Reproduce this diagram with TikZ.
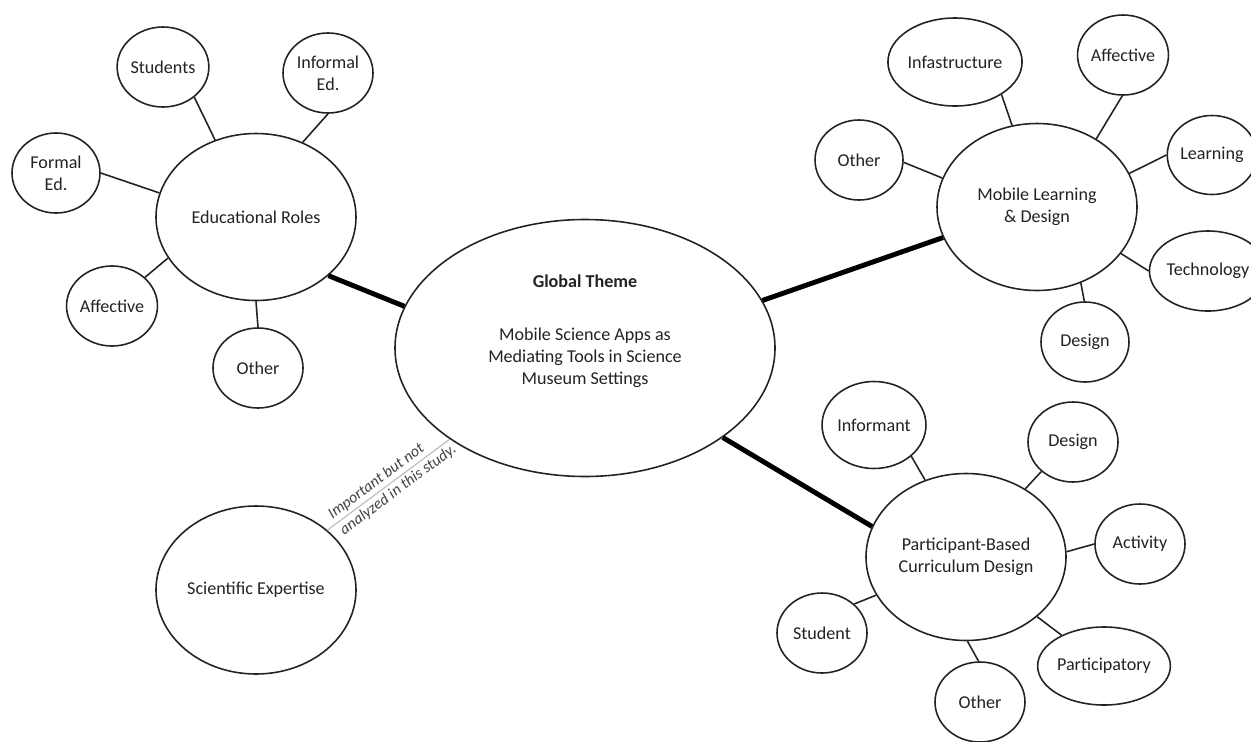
\documentclass[tikz,border=0pt]{standalone}
\usepackage{fontspec}
\setmainfont{Carlito}
\usetikzlibrary{shapes.geometric}
\definecolor{ink}{RGB}{35,35,35}
\tikzset{
  ell/.style 2 args={draw=ink, ellipse, line width=0.9pt, minimum width=#1*0.02cm, minimum height=#2*0.02cm, inner sep=0pt, align=center, text=ink},
  thinedge/.style={draw=ink, line width=0.9pt},
  thickedge/.style={draw=black, line width=2.8pt},
  noteline/.style={draw=gray!55, line width=0.6pt},
  notetext/.style={font=\fontsize{9}{11}\selectfont\itshape, text=ink!85, inner sep=1.5pt}
}
\begin{document}
\begin{tikzpicture}[x=0.02cm, y=-0.02cm, font=\fontsize{10.3}{12.5}\selectfont]
\useasboundingbox (0,0) rectangle (1251,741);
\fill[white] (0,0) rectangle (1251,741);
\clip (0,0) rectangle (1251,741);

% central
\node[ell={380}{257}] (global) at (585,348) {};
\node[align=center, text=ink, inner sep=0pt] (globaltext) at (585,331) {\textbf{Global Theme}\\[18pt]Mobile Science Apps as\\Mediating Tools in Science\\Museum Settings};

% Educational Roles cluster
\node[ell={200}{167}] (edu) at (256,217) {Educational Roles};
\node[ell={90}{80}] (students) at (163,67) {Students};
\node[ell={90}{80}] (informal) at (328,73) {Informal\\Ed.};
\node[ell={88}{80}] (formal) at (56,173) {Formal\\Ed.};
\node[ell={88}{80}] (affect1) at (112,306) {Affective};
\node[ell={90}{80}] (other1) at (258,368) {Other};

% Scientific Expertise
\node[ell={200}{168}] (sci) at (256,590) {Scientific Expertise};

% Mobile Learning cluster
\node[ell={200}{167}] (mobile) at (1037,207) {Mobile Learning\\\& Design};
\node[ell={130}{88}] (infra) at (955,62) {Infastructure};
\node[ell={90}{80}] (affect2) at (1123,55) {Affective};
\node[ell={88}{80}] (other2) at (859,160) {Other};
\node[ell={88}{79}] (learning) at (1212,155) {Learning};
\node[ell={110}{80}] (tech) at (1208,271) {Technology};
\node[ell={88}{80}] (design2) at (1085,342) {Design};

% Participant-Based cluster
\node[ell={200}{167}] (part) at (966,557) {Participant-Based\\Curriculum Design};
\node[ell={100}{87}] (informant) at (874,425) {Informant};
\node[ell={90}{80}] (design3) at (1073,442) {Design};
\node[ell={90}{80}] (activity) at (1140,544) {Activity};
\node[ell={110}{78}] (particip) at (1104,666) {Participatory};
\node[ell={90}{80}] (other3) at (980,702) {Other};
\node[ell={90}{80}] (student) at (822,633) {Student};

% thick connectors
\draw[thickedge] (global.167) -- (edu.-39);
\draw[thickedge] (global.15) -- (mobile.198);
\draw[thickedge] (global.-33) -- (part.162);

% Educational Roles spokes
\draw[thinedge] (students.-44) -- (edu.118);
\draw[thinedge] (informal.-90) -- (edu.58);
\draw[thinedge] (formal.0) -- (edu.166);
\draw[thinedge] (affect1.41) -- (edu.-155);
\draw[thinedge] (other1.90) -- (edu.-90);

% Mobile spokes
\draw[thinedge] (infra.-35) -- (mobile.107);
\draw[thinedge] (affect2.-91) -- (mobile.49);
\draw[thinedge] (other2.-3) -- (mobile.163);
\draw[thinedge] (learning.180) -- (mobile.20);
\draw[thinedge] (tech.180) -- (mobile.-29);
\draw[thinedge] (design2.91) -- (mobile.-60);

% Participant spokes
\draw[thinedge] (informant.-40) -- (part.118);
\draw[thinedge] (design3.223) -- (part.49);
\draw[thinedge] (activity.180) -- (part.3);
\draw[thinedge] (particip.144) -- (part.-40);
\draw[thinedge] (other3.92) -- (part.-89);
\draw[thinedge] (student.42) -- (part.203);

% note line
\draw[noteline] (sci.40) -- (global.214)
  node[pos=0.05, sloped, anchor=south west, notetext] (note1) {Important but not}
  node[pos=0.05, sloped, anchor=north west, notetext] (note2) {analyzed in this study.};
\end{tikzpicture}
\end{document}
